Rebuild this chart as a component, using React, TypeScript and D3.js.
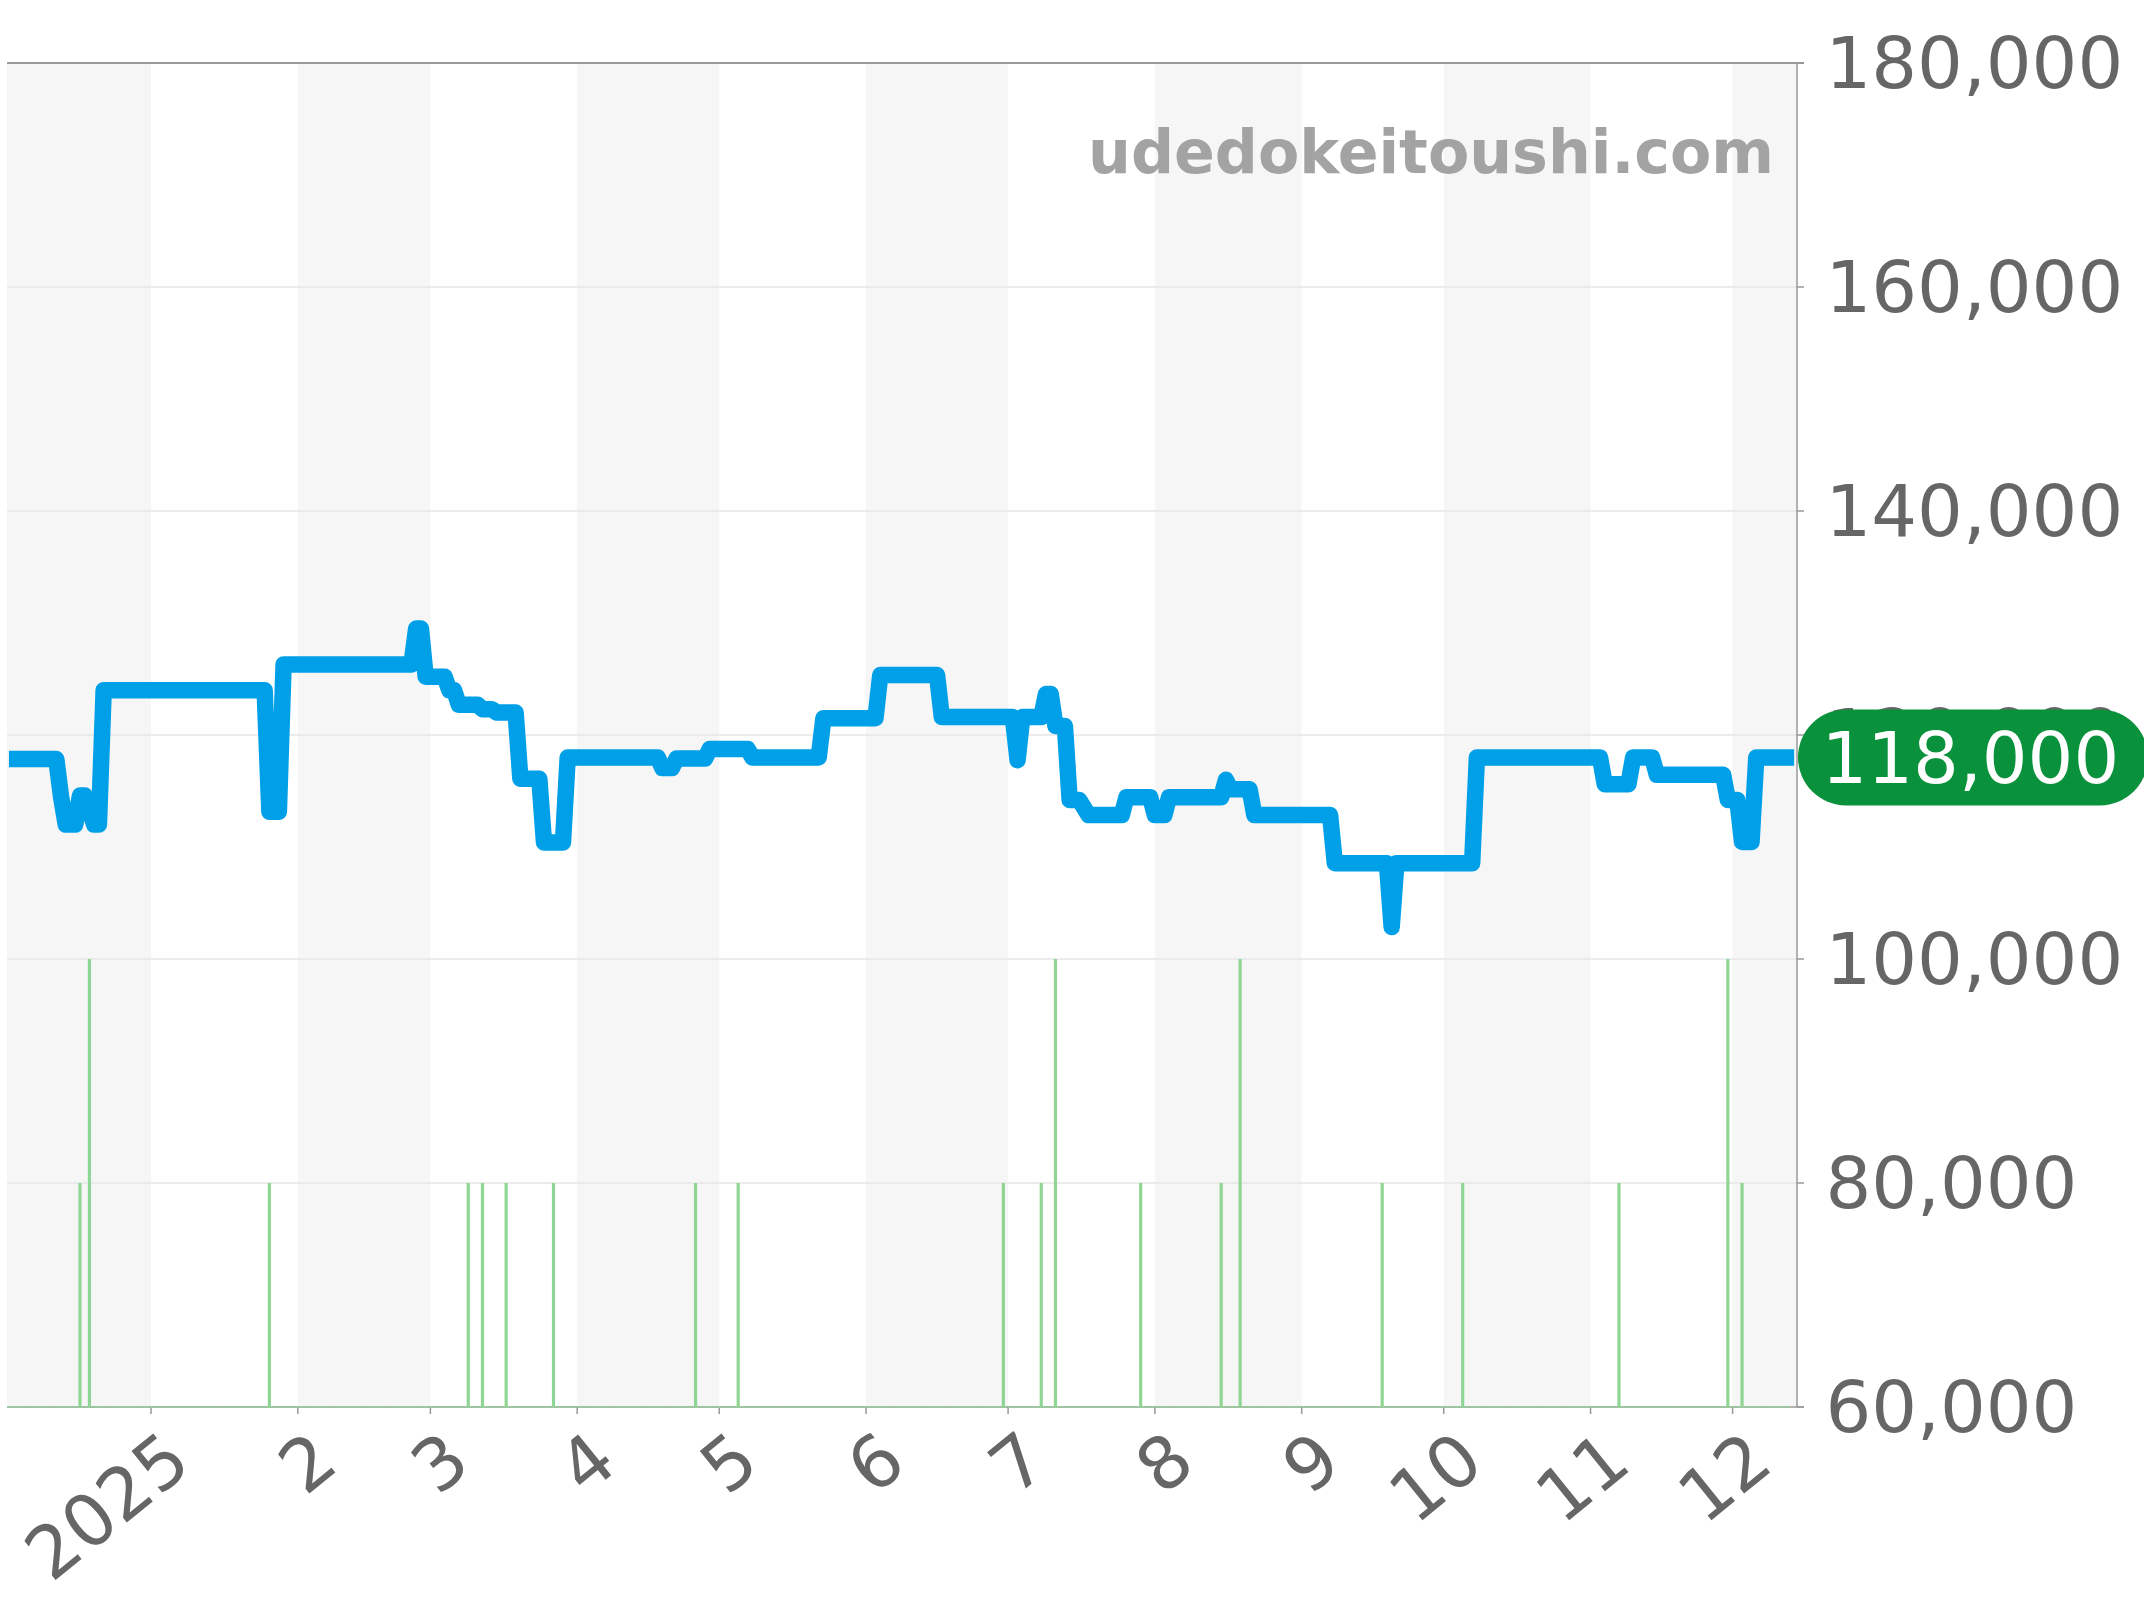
import React from "react";
import * as d3 from "d3";

const WIDTH = 2144;
const HEIGHT = 1600;

// days counted from 2025-01-01
const tickDays = [0, 31, 59, 90, 120, 151, 181, 212, 243, 273, 304, 334];
const tickLabels = ["2025", "2", "3", "4", "5", "6", "7", "8", "9", "10", "11", "12"];
const bandStarts = [-30.4, 31, 90, 151, 212, 273, 334];
const bandEnds = [0, 59, 120, 181, 243, 304, 347.6];
const yTicks = [60000, 80000, 100000, 120000, 140000, 160000, 180000];
const lastPrice = 118000;

const lineDays = [
  -30, -20, -19, -18, -16, -15, -14, -12, -11, -10, 24, 25, 27, 28, 55, 56, 57, 58, 62, 63, 64, 65, 69, 70, 72, 73, 77,
  78, 82, 83, 87, 88, 107, 108, 110, 111, 117, 118, 126, 127, 141, 142, 153, 154, 166, 167, 182, 183, 184, 188, 189,
  190, 191, 193, 194, 196, 198, 205, 206, 211, 212, 214, 215, 226, 227, 228, 232, 233, 249, 250, 261, 262, 263, 279,
  280, 306, 307, 312, 313, 317, 318, 332, 333, 335, 336, 338, 339, 347,
];
const lineValues = [
  117850, 117850, 114500, 112000, 112000, 114600, 114600, 112000, 112000, 124000, 124000, 113150, 113150, 126300,
  126300, 129500, 129500, 125200, 125200, 124000, 124000, 122700, 122700, 122300, 122300, 122000, 122000, 116100,
  116100, 110400, 110400, 118000, 118000, 117050, 117050, 117900, 117900, 118750, 118750, 118000, 118000, 121500,
  121500, 125350, 125350, 121600, 121600, 117750, 121600, 121600, 123650, 123650, 120800, 120800, 114200, 114200,
  112850, 112850, 114450, 114450, 112850, 112850, 114450, 114450, 116000, 115150, 115150, 112850, 112850, 108550,
  108550, 102850, 108550, 108550, 118000, 118000, 115600, 115600, 118000, 118000, 116450, 116450, 114200, 114200,
  110450, 110450, 118000, 118000,
];

const barDays = [-15, -13, 25, 67, 70, 75, 85, 115, 124, 180, 188, 191, 209, 226, 230, 260, 277, 310, 333, 336];
const barValues = [
  80000, 100000, 80000, 80000, 80000, 80000, 80000, 80000, 80000, 80000, 80000, 100000, 80000, 80000, 100000, 80000,
  80000, 80000, 100000, 80000,
];

const x = d3.scaleLinear().domain([0, 334]).range([151, 1732.6]);
const y = d3.scaleLinear().domain([60000, 180000]).range([1407, 63]);
const plotLeft = x(-30.4);
const plotRight = 1797;
const axisColor = "#999999";
const textColor = "#666666";
const fontFamily = "'DejaVu Sans', sans-serif";
const fmt = d3.format(",");

export default function App() {
  const path = d3
    .line<number>()
    .x((d) => x(d))
    .y((_, i) => y(lineValues[i]))(lineDays) as string;
  const pillTop = y(lastPrice) - 48;
  return (
    <svg
      width={WIDTH}
      height={HEIGHT}
      style={{ position: "absolute", left: 0, top: 0, display: "block", background: "#fff" }}
    >
      {bandStarts.map((s, i) => (
        <rect key={i} x={x(s)} y={y(180000)} width={x(bandEnds[i]) - x(s)} height={y(60000) - y(180000)} fill="#f6f6f6" />
      ))}
      {yTicks.slice(1, -1).map((t) => (
        <line key={t} x1={plotLeft} x2={plotRight} y1={y(t)} y2={y(t)} stroke="#e6e6e6" strokeWidth={1.4} />
      ))}
      <line x1={plotLeft} x2={1804} y1={y(180000)} y2={y(180000)} stroke={axisColor} strokeWidth={2} />
      <line x1={plotLeft} x2={1804} y1={y(60000)} y2={y(60000)} stroke={axisColor} strokeWidth={1.5} />
      <line x1={plotRight} x2={plotRight} y1={y(180000)} y2={y(60000)} stroke={axisColor} strokeWidth={1.5} />
      {yTicks.map((t) => (
        <line key={t} x1={plotRight} x2={1804} y1={y(t)} y2={y(t)} stroke={axisColor} strokeWidth={1.5} />
      ))}
      {tickDays.map((d) => (
        <line key={d} x1={x(d)} x2={x(d)} y1={y(60000)} y2={y(60000) + 7} stroke={axisColor} strokeWidth={1.5} />
      ))}
      <line
        x1={plotLeft}
        x2={1790}
        y1={y(60000)}
        y2={y(60000)}
        stroke="#8fd694"
        strokeWidth={1.5}
        strokeDasharray="2.5 1"
      />
      {barDays.map((d, i) => (
        <line key={i} x1={x(d)} x2={x(d)} y1={y(60000)} y2={y(barValues[i])} stroke="#8fd694" strokeWidth={3.2} />
      ))}
      <text
        x={1774}
        y={172.5}
        textAnchor="end"
        fontFamily={fontFamily}
        fontWeight="bold"
        fontSize={60.2}
        fill="#a3a3a3"
      >
        udedokeitoushi.com
      </text>
      <path d={path} fill="none" stroke="#00a0e9" strokeWidth={16.5} strokeLinejoin="round" strokeLinecap="butt" />
      {yTicks.map((t) => (
        <text key={t} x={1825.5} y={y(t) - 0.5} dy="0.36em" fontFamily={fontFamily} fontSize={72} fill={textColor}>
          {fmt(t)}
        </text>
      ))}
      {tickDays.map((d, i) => (
        <text
          key={d}
          textAnchor="end"
          fontFamily={fontFamily}
          fontSize={72}
          fill={textColor}
          transform={`translate(${x(d) + 43},${y(60000) + 61}) rotate(-39)`}
        >
          {tickLabels[i]}
        </text>
      ))}
      <rect x={1798} y={pillTop} width={350} height={96} rx={48} ry={48} fill="#0a913b" />
      <text x={1821.5} y={y(lastPrice)} dy="0.36em" fontFamily={fontFamily} fontSize={72} fill="#ffffff">
        {fmt(lastPrice)}
      </text>
    </svg>
  );
}
